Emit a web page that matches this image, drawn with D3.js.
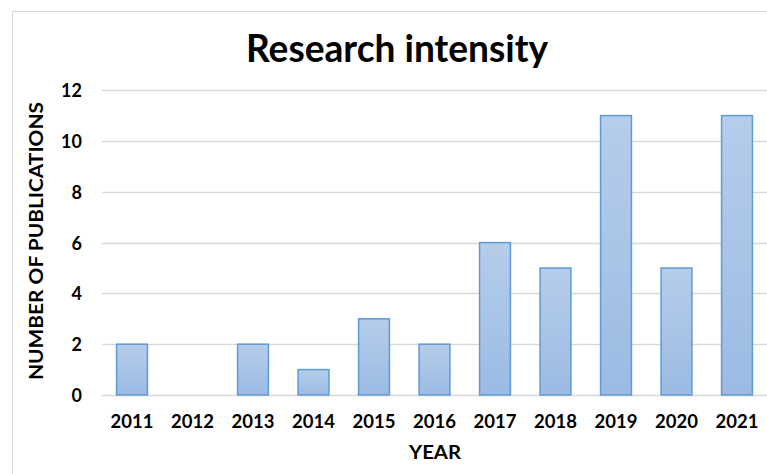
<!DOCTYPE html>
<html>
<head>
<meta charset="utf-8">
<script src="https://cdn.jsdelivr.net/npm/d3@7"></script>
<style>
  html, body { margin: 0; padding: 0; background: #fff; }
  svg { display: block; }
  text { font-family: Lato, "Liberation Sans", sans-serif; font-weight: bold; fill: #000; }
</style>
</head>
<body>
<svg id="chart" width="767" height="474"></svg>
<script>
const years = ["2011","2012","2013","2014","2015","2016","2017","2018","2019","2020","2021"];
const publications = [2, 0, 2, 1, 3, 2, 6, 5, 11, 5, 11];
const yTicks = [0, 2, 4, 6, 8, 10, 12];
const title = "Research intensity";
const xTitle = "YEAR";
const yTitle = "NUMBER OF PUBLICATIONS";

const W = 767, H = 474;
const margin = { left: 101.75, right: -0.25, top: 90.2, bottom: 474 - 395 };
const svg = d3.select("#chart");

const defs = svg.append("defs");
const grad = defs.append("linearGradient")
  .attr("id", "barGrad").attr("x1", 0).attr("y1", 0).attr("x2", 0).attr("y2", 1);
grad.append("stop").attr("offset", "0%").attr("stop-color", "#b6cdeb");
grad.append("stop").attr("offset", "100%").attr("stop-color", "#9bbbe3");

// chart border (extends past right and bottom edges)
svg.append("rect")
  .attr("x", 12.5).attr("y", 11.5).attr("width", W + 20).attr("height", H + 20)
  .attr("fill", "none").attr("stroke", "#d9d9d9").attr("stroke-width", 1);

const x = d3.scaleBand()
  .domain(years)
  .range([margin.left, W - margin.right])
  .paddingInner(0.49).paddingOuter(0.245);

const y = d3.scaleLinear()
  .domain([0, 12])
  .range([H - margin.bottom, margin.top]);

// gridlines
svg.append("g")
  .selectAll("line")
  .data(yTicks)
  .join("line")
  .attr("x1", margin.left).attr("x2", W)
  .attr("y1", d => Math.round(y(d)) + 0.5).attr("y2", d => Math.round(y(d)) + 0.5)
  .attr("stroke", "#d9d9d9").attr("stroke-width", 1.3);

// bars
svg.append("g")
  .selectAll("rect")
  .data(years.map((yr, i) => ({ yr, v: publications[i] })).filter(d => d.v > 0))
  .join("rect")
  .attr("x", d => x(d.yr))
  .attr("y", d => y(d.v))
  .attr("width", x.bandwidth())
  .attr("height", d => y(0) - y(d.v))
  .attr("fill", "url(#barGrad)")
  .attr("stroke", "#5f9ad6")
  .attr("stroke-width", 1.5);

// y axis tick labels
const yAxis = d3.axisLeft(y).tickValues(yTicks).tickSize(0).tickPadding(0);
const gy = svg.append("g").attr("transform", "translate(82,0)").call(yAxis);
gy.select(".domain").remove();
gy.selectAll("text")
  .attr("font-size", 18).attr("font-family", "Lato, 'Liberation Sans', sans-serif")
  .attr("font-weight", "900").attr("fill", "#000").attr("dy", "0.36em");

// x axis tick labels
const xAxis = d3.axisBottom(x).tickSize(0).tickPadding(0);
const gx = svg.append("g").attr("transform", "translate(0,428)").call(xAxis);
gx.select(".domain").remove();
gx.selectAll("text")
  .attr("font-size", 18.5).attr("font-family", "Lato, 'Liberation Sans', sans-serif")
  .attr("font-weight", "900").attr("fill", "#000").attr("dy", 0).attr("y", 0);

// title
svg.append("text")
  .attr("x", 397).attr("y", 62)
  .attr("text-anchor", "middle")
  .attr("font-size", 38.5)
  .attr("textLength", 302).attr("lengthAdjust", "spacingAndGlyphs")
  .text(title);

// x title
svg.append("text")
  .attr("x", 435).attr("y", 459)
  .attr("text-anchor", "middle")
  .attr("font-size", 19.5)
  .attr("font-weight", "900")
  .attr("textLength", 52).attr("lengthAdjust", "spacingAndGlyphs")
  .text(xTitle);

// y title
svg.append("text")
  .attr("transform", "translate(43,241) rotate(-90)")
  .attr("text-anchor", "middle")
  .attr("font-size", 19.5)
  .attr("font-weight", "900")
  .attr("textLength", 278).attr("lengthAdjust", "spacingAndGlyphs")
  .text(yTitle);
</script>
</body>
</html>
